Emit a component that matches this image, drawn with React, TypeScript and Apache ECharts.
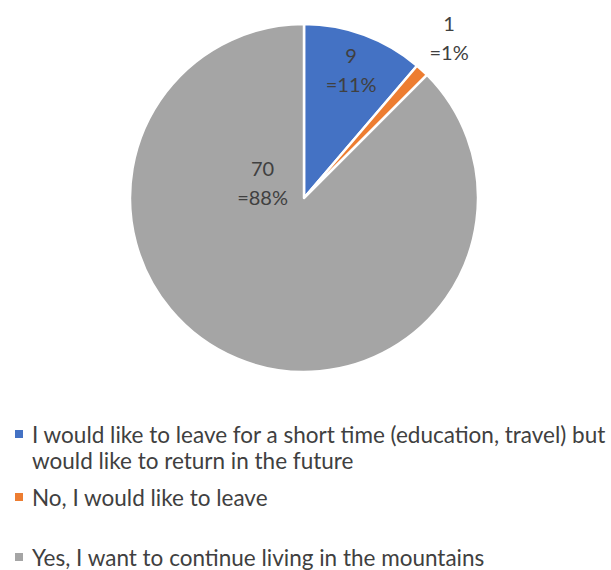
import React, { useEffect, useRef } from "react";
import * as echarts from "echarts";

const categories = [
  "I would like to leave for a short time (education, travel) but would like to return in the future",
  "No, I would like to leave",
  "Yes, I want to continue living in the mountains",
];
const values = [9, 1, 70];
const colors = ["#4472C4", "#ED7D31", "#A5A5A5"];
const legendTexts = [
  "I would like to leave for a short time (education, travel) but\nwould like to return in the future",
  "No, I would like to leave",
  "Yes, I want to continue living in the mountains",
];

const FONT = "Lato";
const TEXT_COLOR = "#404040";

export default function App() {
  const ref = useRef<HTMLDivElement>(null);
  useEffect(() => {
    if (!ref.current) return;
    const chart = echarts.init(ref.current, null, { renderer: "svg" });
    const labelShift = [
      { dx: 16, dy: -44 },
      { dx: 84, dy: -94 },
      { dx: -7, dy: -99 },
    ];
    const legendTops = [421, 484, 544];
    const legends = categories.map((name, i) => {
      const twoLine = i === 0;
      return {
        show: true,
        data: [name],
        orient: "vertical",
        left: 15,
        top: legendTops[i],
        padding: 0,
        icon: twoLine ? "path://M0,0h8v8h-8zM0,34h12" : "path://M0,0h8v8h-8zM0,8h12",
        itemWidth: 12,
        itemHeight: twoLine ? 34 : 8,
        itemStyle: { borderWidth: 0 },
        selectedMode: false,
        formatter: () => legendTexts[i],
        textStyle: {
          fontFamily: FONT,
          fontSize: 22.5,
          color: TEXT_COLOR,
          lineHeight: 26,
        },
      };
    });
    chart.setOption({
      animation: false,
      color: colors,
      legend: legends,
      series: [
        {
          type: "pie",
          center: [304, 198],
          radius: [0, 174],
          startAngle: 90,
          clockwise: true,
          percentPrecision: 0,
          avoidLabelOverlap: false,
          data: categories.map((name, i) => ({ name, value: values[i] })),
          itemStyle: { borderColor: "#ffffff", borderWidth: 2.5 },
          label: {
            show: true,
            position: "inside",
            formatter: "{c}\n={d}%",
            fontFamily: FONT,
            fontSize: 20,
            lineHeight: 29,
            color: TEXT_COLOR,
            align: "center",
          },
          labelLine: { show: false },
          labelLayout: (params: any) => labelShift[params.dataIndex],
          emphasis: { disabled: true },
        },
      ],
    });
    return () => chart.dispose();
  }, []);
  return (
    <div
      ref={ref}
      style={{ position: "fixed", left: 0, top: 0, width: 611, height: 570, background: "#fff" }}
    />
  );
}
